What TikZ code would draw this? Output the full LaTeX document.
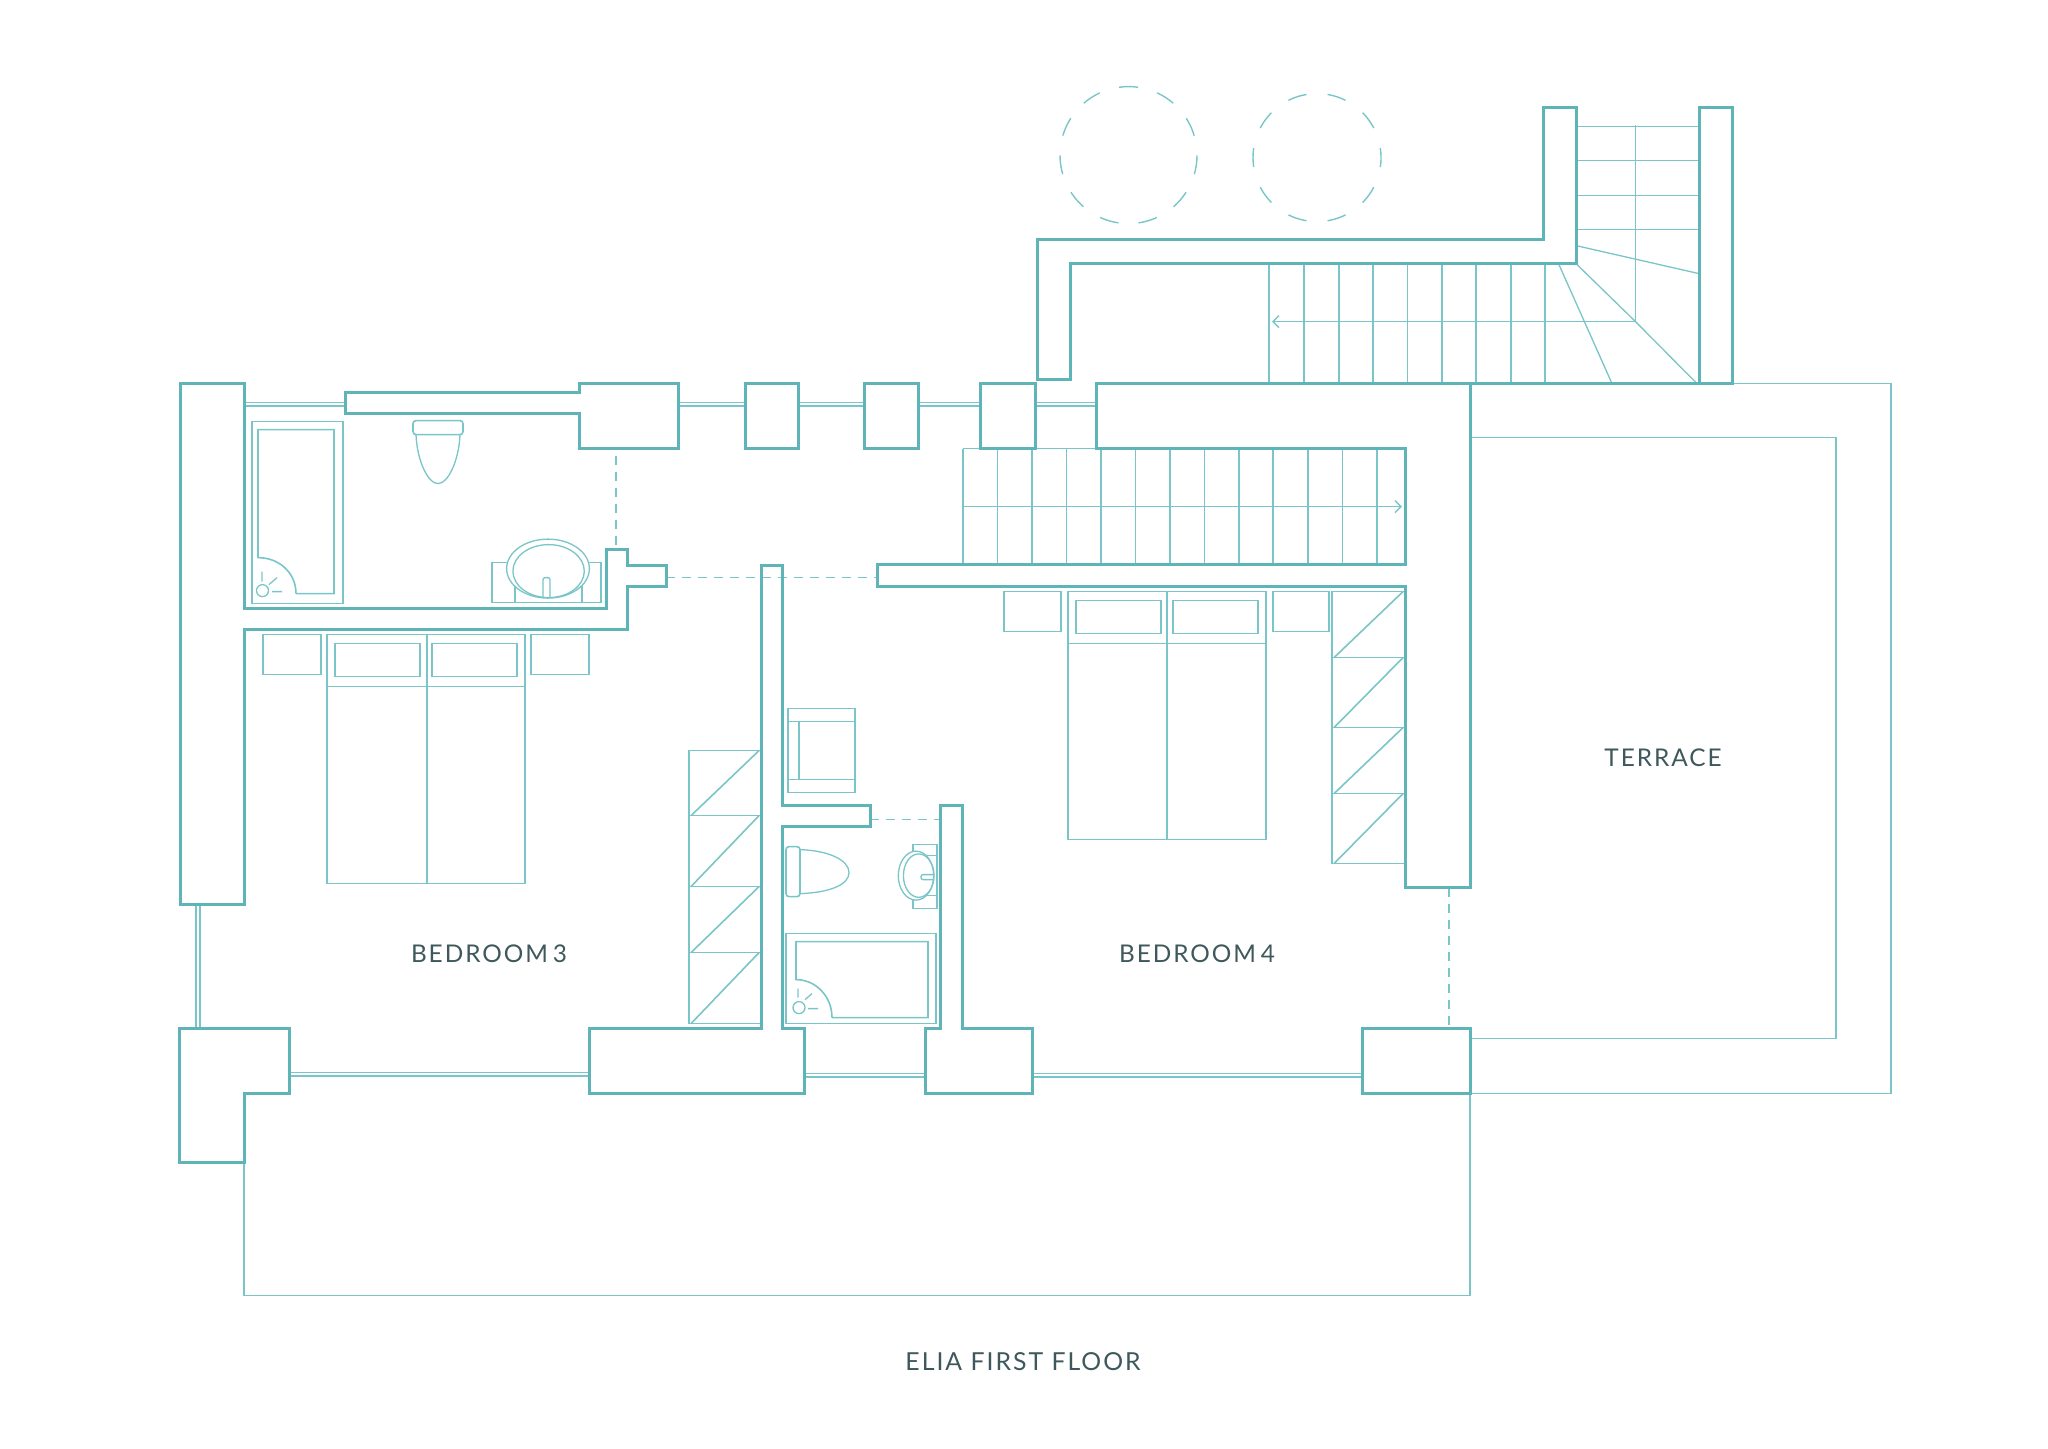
\documentclass[tikz,border=0pt]{standalone}
\usepackage{fontspec}
\setmainfont[LetterSpace=8]{Lato}
\definecolor{wallc}{RGB}{95,180,184}
\definecolor{thinc}{RGB}{122,197,199}
\definecolor{textc}{RGB}{62,88,92}
\tikzset{
  wall/.style={draw=wallc,line width=1.5pt,line join=miter},
  thinline/.style={draw=thinc,line width=0.65pt},
  fixture/.style={draw=thinc,line width=0.8pt},
  doorline/.style={draw=thinc,line width=0.7pt,dash pattern=on 4.5pt off 3.5pt},
  roomlabel/.style={text=textc,font=\fontsize{12.2}{15}\selectfont,inner sep=0pt},
}
\newcommand{\glazeh}[3]{\draw[thinline] (#1,#3) -- (#2,#3); \draw[thinline] (#1,#3+3.5) -- (#2,#3+3.5);}
\begin{document}
\begin{tikzpicture}[x=0.5pt,y=-0.5pt]
\useasboundingbox (0,0) rectangle (2048,1448);
\begin{scope}[shift={(0,0.6)}]
% trees
\foreach \k in {0,...,10}{
  \pgfmathsetmacro{\a}{90-\k*32.73}
  \draw[thinline,line width=0.7pt] plot[smooth,domain=\a-8:\a+8,samples=5] ({1128.5+68.5*cos(\x)},{154.5-68.5*sin(\x)});
}
\foreach \k in {0,...,9}{
  \pgfmathsetmacro{\a}{72+\k*36}
  \draw[thinline,line width=0.7pt] plot[smooth,domain=\a-8.5:\a+8.5,samples=5] ({1317+64*cos(\x)},{157-64*sin(\x)});
}
% terrace and balcony
\draw[thinline] (1732,383) -- (1891,383) -- (1891,1093) -- (1470,1093);
\draw[thinline] (1470,437) -- (1836,437) -- (1836,1038) -- (1470,1038);
\draw[thinline] (244,1162) -- (244,1295) -- (1470,1295) -- (1470,1093);
% glazing
\glazeh{244}{345}{402}
\glazeh{678}{745}{402}
\glazeh{798}{864}{402}
\glazeh{918}{980}{402}
\glazeh{1035}{1096}{402}
\glazeh{289}{589}{1072}
\glazeh{804}{925}{1073}
\glazeh{1032}{1362}{1073}
\draw[thinline] (196,904) -- (196,1028); \draw[thinline] (200,904) -- (200,1028);
% upper stairs
\foreach \y in {126,160,195,229} \draw[fixture] (1576,\y) -- (1699,\y);
\draw[thinline] (1576,245) -- (1699,273);
\draw[thinline] (1635.5,124) -- (1635.5,321);
\draw[thinline] (1576,263) -- (1635.5,321) -- (1697,383);
\draw[thinline] (1558.5,263) -- (1612,383);
\foreach \x in {1269,1304,1339,1373,1407.5,1442,1476,1511,1545} \draw[thinline] (\x,263) -- (\x,383);
\draw[thinline] (1635.5,321) -- (1273,321);
\draw[thinline] (1279,315) -- (1273,321) -- (1279,327);
% main stairs
\draw[thinline] (963,448) -- (1096,448);
\foreach \x in {963,997.5,1032,1066.4,1101,1135.7,1170,1204.6,1239,1273,1308,1342.5,1377} \draw[thinline] (\x,448) -- (\x,564);
\draw[thinline] (963,506) -- (1401,506);
\draw[thinline] (1395,500) -- (1401,506) -- (1395,512);
% dashed door lines
\draw[doorline] (616,455) -- (616,548);
\draw[doorline] (666,577) -- (877,577);
\draw[doorline] (870,819) -- (940,819);
\draw[doorline] (1449,887) -- (1449,1028);
% bath 1
\draw[fixture] (252,421) rectangle (343,603);
\draw[fixture] (296,593) -- (334,593) -- (334,429) -- (258,429) -- (258,557) .. controls (279,557) and (296,572) .. (296,593);
\draw[thinline] (262.5,590) circle (6);
\draw[thinline] (262,571) -- (262,581) (269,584) -- (277,577) (272,591) -- (282,591);
% toilet 1
\draw[thinline] (416,434) .. controls (417,460) and (428,483) .. (438,483) .. controls (448,483) and (459,460) .. (460,434);
\draw[fixture,rounded corners=1.5pt] (413,420) rectangle (463,434);
% sink 1
\draw[thinline] (492,562) rectangle (601,602);
\draw[thinline] (515,585) -- (515,602) (582,585) -- (582,602);
\draw[thinline,fill=white] (548,568) ellipse [x radius=41.4,y radius=29.5];
\draw[thinline] (548.6,570.5) ellipse [x radius=35.7,y radius=26.5];
\draw[thinline,rounded corners=1pt] (543,597) -- (543,577) -- (550,577) -- (550,597);
% bed 3
\draw[thinline] (327,634) rectangle (525,883);
\draw[thinline] (427,634) -- (427,883) (327,686) -- (525,686);
\draw[fixture] (335,643) rectangle (420,676);
\draw[fixture] (432,643) rectangle (517,676);
\draw[fixture] (263,634) rectangle (321,674);
\draw[fixture] (531,634) rectangle (589,674);
% wardrobe 3
\draw[thinline] (689,750) rectangle (761,1023);
\draw[fixture] (689,815) -- (761,815) (689,886) -- (761,886) (689,952) -- (761,952);
\draw[fixture] (691,815) -- (759,750) (691,886) -- (759,815) (691,952) -- (759,886) (691,1023) -- (759,952);
% armchair
\draw[thinline] (788,708) rectangle (855,792);
\draw[thinline] (788,721) -- (855,721) (788,779) -- (855,779) (799,721) -- (799,779);
% toilet 2
\draw[thinline] (800,849) .. controls (830,850) and (849,860) .. (849,872) .. controls (849,884) and (830,892) .. (800,893);
\draw[fixture,rounded corners=1.5pt] (786,846) rectangle (800,896);
% sink 2
\draw[thinline] (913,844) rectangle (937,908);
\draw[thinline] (915,855) -- (937,855) (915,895) -- (937,895);
\draw[thinline,fill=white] (916,875) ellipse [x radius=17.7,y radius=24.5];
\draw[thinline] (918.7,875) ellipse [x radius=15.3,y radius=21.7];
\draw[thinline,rounded corners=1pt] (933,874) -- (921,874) -- (921,879) -- (933,879);
% bath 2
\draw[fixture] (786,933) rectangle (936,1023);
\draw[fixture] (832,1017) -- (928,1017) -- (928,941) -- (796,941) -- (796,979) .. controls (816,979) and (832,996) .. (832,1017);
\draw[thinline] (799,1007) circle (6);
\draw[thinline] (798,988) -- (798,997) (805,999) -- (812,993) (808,1008) -- (818,1008);
% bed 4
\draw[thinline] (1068,591) rectangle (1266,839);
\draw[thinline] (1167,591) -- (1167,839) (1068,643) -- (1266,643);
\draw[fixture] (1076,600) rectangle (1161,633);
\draw[fixture] (1173,600) rectangle (1258,633);
\draw[fixture] (1004,591) rectangle (1061,631);
\draw[fixture] (1273,591) rectangle (1329,631);
% wardrobe 4
\draw[thinline] (1405,591) -- (1332,591) -- (1332,863) -- (1405,863);
\draw[fixture] (1332,657) -- (1405,657) (1332,727) -- (1405,727) (1332,793) -- (1405,793);
\draw[fixture] (1334,657) -- (1403,591) (1334,727) -- (1403,657) (1334,793) -- (1403,727) (1334,863) -- (1403,793);
% walls
\draw[wall] (180,383) -- (244,383) -- (244,608) -- (606,608) -- (606,549) -- (627,549) -- (627,565) -- (666,565) -- (666,586) -- (627,586) -- (627,629) -- (244,629) -- (244,904) -- (180,904) -- cycle;
\draw[wall] (345,392) -- (579,392) -- (579,383) -- (678,383) -- (678,448) -- (579,448) -- (579,413) -- (345,413) -- cycle;
\draw[wall] (745,383) rectangle (798,448);
\draw[wall] (864,383) rectangle (918,448);
\draw[wall] (980,383) rectangle (1035,448);
\draw[wall] (1096,383) -- (1470,383) -- (1470,887) -- (1405,887) -- (1405,586) -- (877,586) -- (877,564) -- (1405,564) -- (1405,448) -- (1096,448) -- cycle;
\draw[wall] (1470,383) -- (1732,383);
\draw[wall] (1543,107) -- (1576,107) -- (1576,263) -- (1070,263) -- (1070,379) -- (1037,379) -- (1037,239) -- (1543,239) -- cycle;
\draw[wall] (1699,107) rectangle (1732,383);
\draw[wall] (761,565) -- (782,565) -- (782,805) -- (870,805) -- (870,826) -- (782,826) -- (782,1028) -- (804,1028) -- (804,1093) -- (589,1093) -- (589,1028) -- (761,1028) -- cycle;
\draw[wall] (940,805) -- (962,805) -- (962,1028) -- (1032,1028) -- (1032,1093) -- (925,1093) -- (925,1028) -- (940,1028) -- cycle;
\draw[wall] (1362,1028) rectangle (1470,1093);
\draw[wall] (179,1028) -- (289,1028) -- (289,1093) -- (244,1093) -- (244,1162) -- (179,1162) -- cycle;
% labels
\node[roomlabel] (bed3) at (489,953.5) {BEDROOM\hspace{0.2em}3};
\node[roomlabel] (bed4) at (1197,953.5) {BEDROOM\hspace{0.2em}4};
\node[roomlabel] (terr) at (1663,757.5) {TERRACE};
\node[roomlabel,font=\fontsize{12.4}{15}\selectfont] (title) at (1023,1360.5) {ELIA FIRST FLOOR};
\end{scope}
\end{tikzpicture}
\end{document}
